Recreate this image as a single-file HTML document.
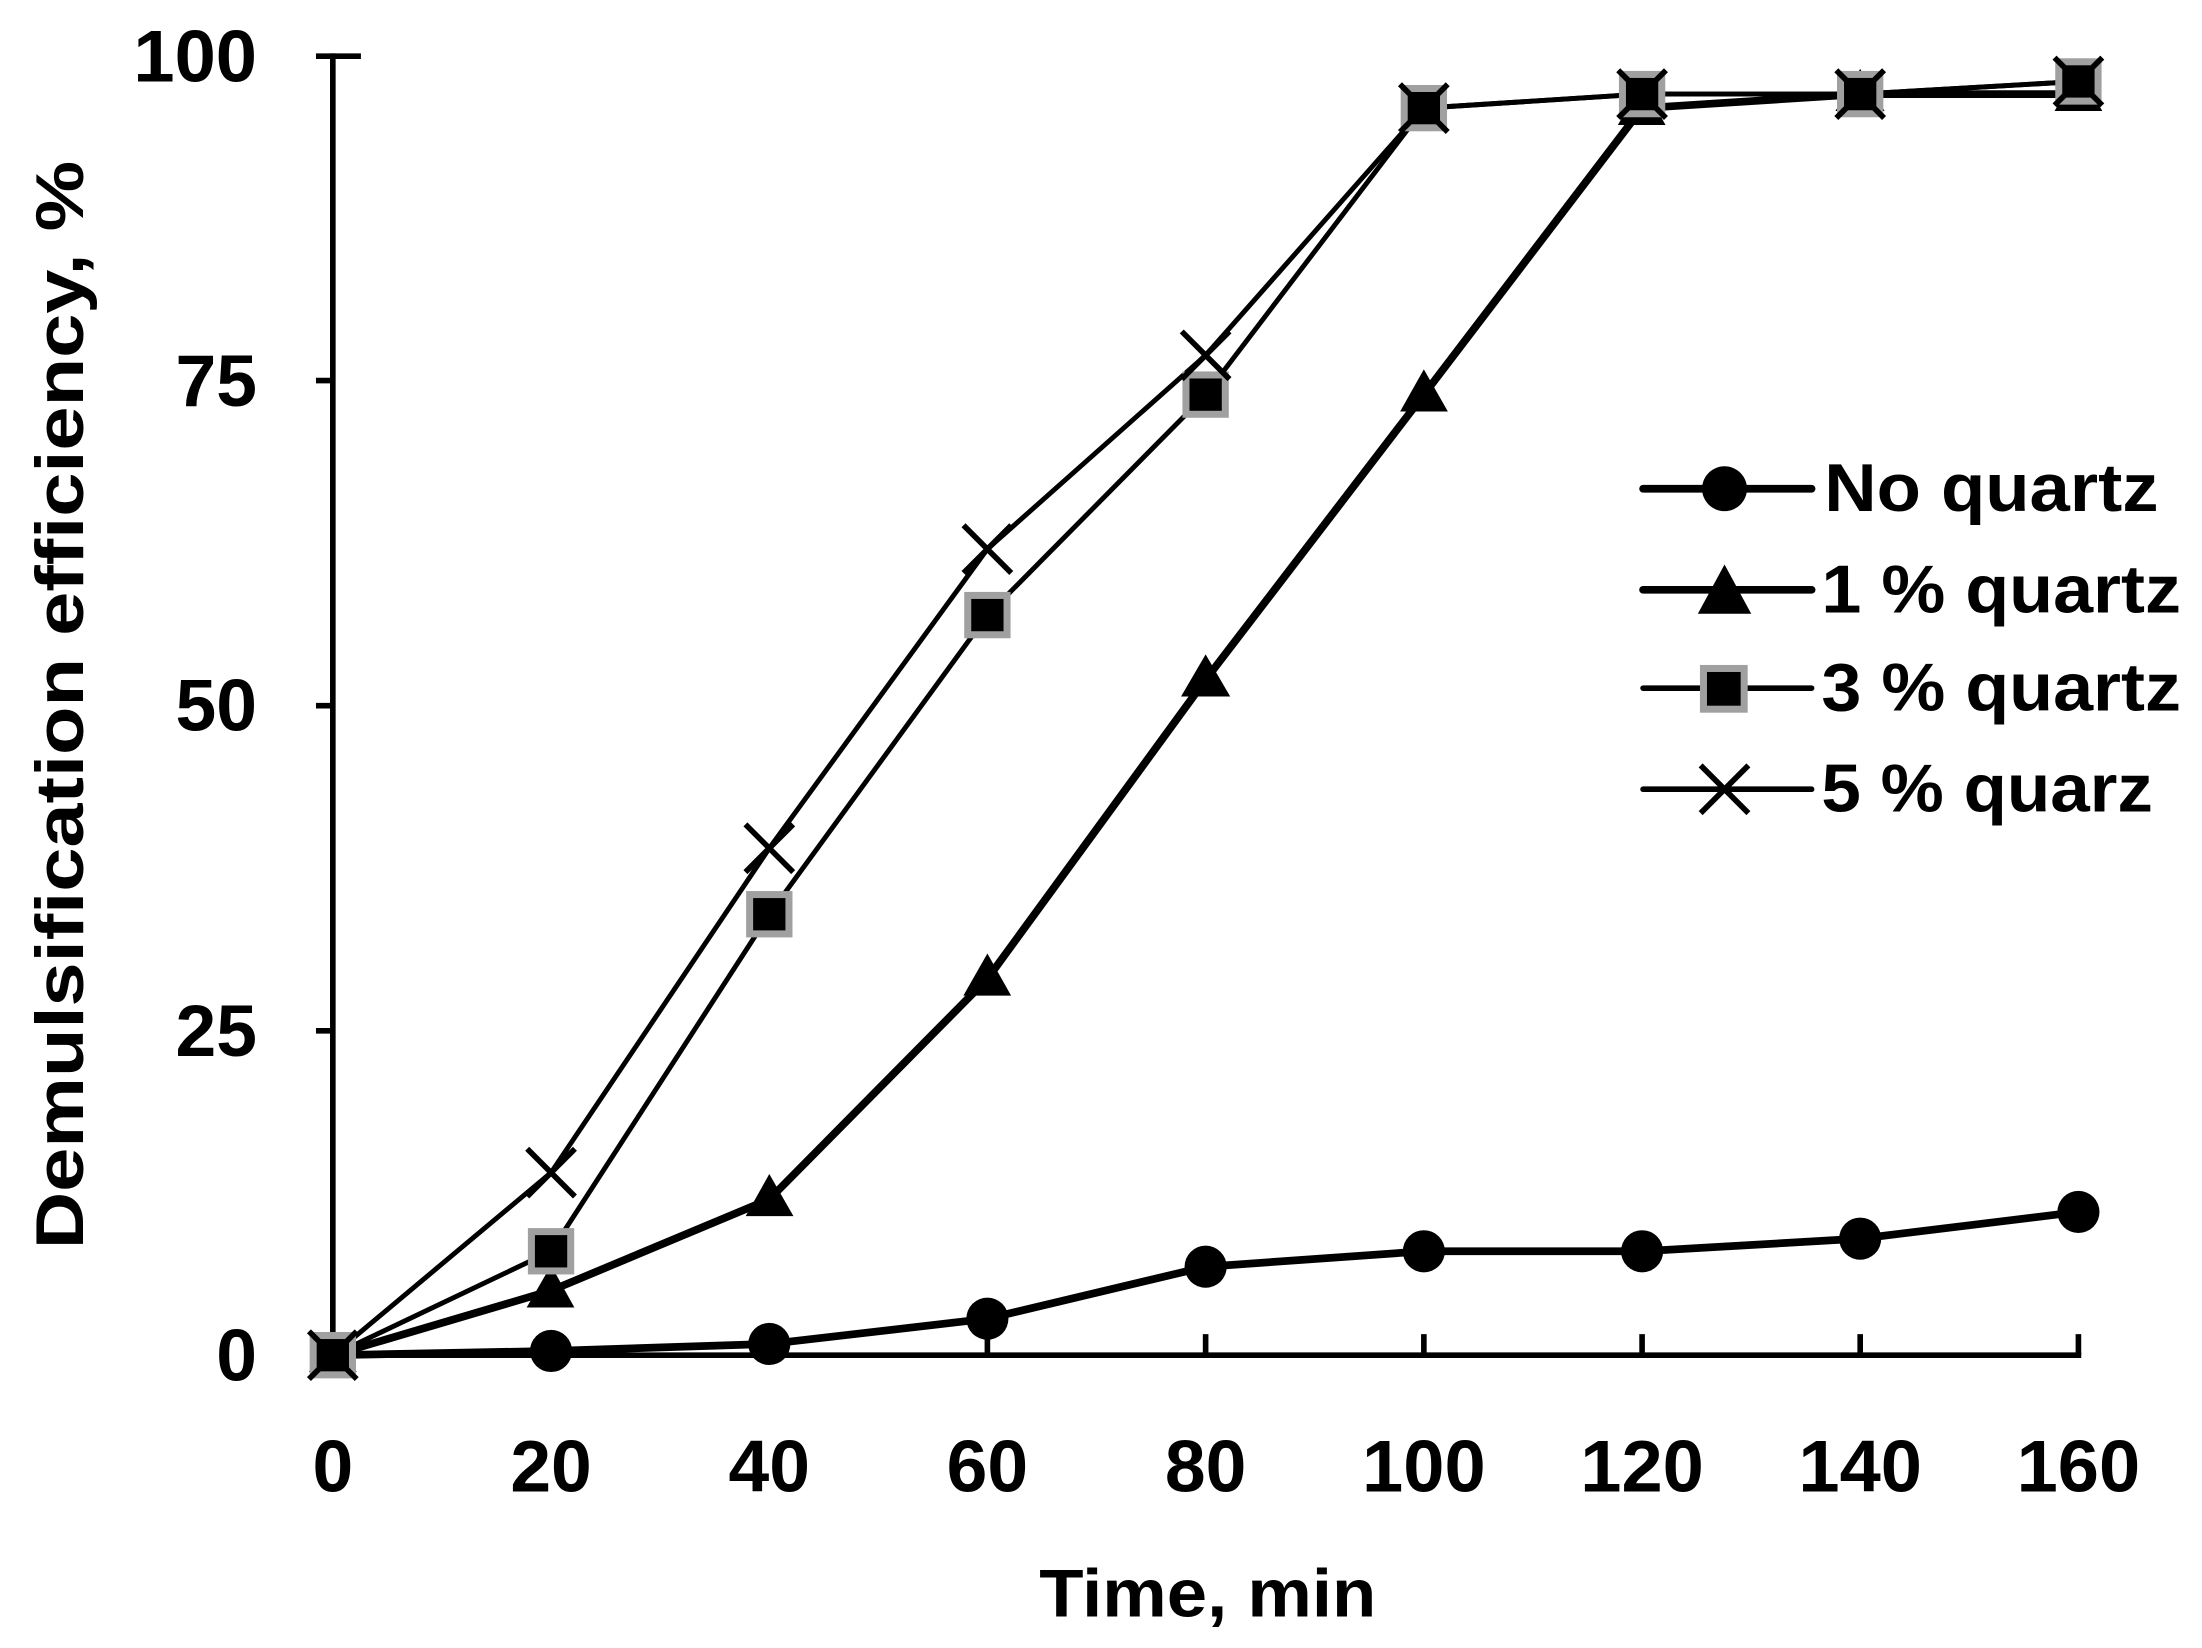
<!DOCTYPE html>
<html><head><style>html,body{margin:0;padding:0;background:#fff}svg{display:block}</style></head>
<body>
<svg width="2202" height="1648" viewBox="0 0 1568 1173.5" preserveAspectRatio="none" xmlns="http://www.w3.org/2000/svg" font-family="Liberation Sans, sans-serif" font-weight="bold">
<g stroke="#000" stroke-width="4" fill="none">
<line x1="237" y1="38" x2="237" y2="967"/>
<line x1="235" y1="965" x2="1482" y2="965"/>
<line x1="225" y1="40" x2="257" y2="40"/>
<line x1="225" y1="271" x2="237" y2="271"/>
<line x1="225" y1="502.5" x2="237" y2="502.5"/>
<line x1="225" y1="734" x2="237" y2="734"/>
<line x1="225" y1="965" x2="237" y2="965"/>
<line x1="392.4" y1="950" x2="392.4" y2="965"/>
<line x1="547.8" y1="950" x2="547.8" y2="965"/>
<line x1="703.1" y1="950" x2="703.1" y2="965"/>
<line x1="858.5" y1="950" x2="858.5" y2="965"/>
<line x1="1013.9" y1="950" x2="1013.9" y2="965"/>
<line x1="1169.3" y1="950" x2="1169.3" y2="965"/>
<line x1="1324.6" y1="950" x2="1324.6" y2="965"/>
<line x1="1480" y1="950" x2="1480" y2="965"/>
</g>
<g font-size="52" text-anchor="end">
<text x="183" y="58" textLength="88" lengthAdjust="spacingAndGlyphs">100</text>
<text x="183" y="289" textLength="58" lengthAdjust="spacingAndGlyphs">75</text>
<text x="183" y="520" textLength="58" lengthAdjust="spacingAndGlyphs">50</text>
<text x="183" y="752" textLength="58" lengthAdjust="spacingAndGlyphs">25</text>
<text x="183" y="983" textLength="29" lengthAdjust="spacingAndGlyphs">0</text>
</g>
<g font-size="52" text-anchor="middle">
<text x="237" y="1062" textLength="29" lengthAdjust="spacingAndGlyphs">0</text>
<text x="392.4" y="1062" textLength="58" lengthAdjust="spacingAndGlyphs">20</text>
<text x="547.8" y="1062" textLength="58" lengthAdjust="spacingAndGlyphs">40</text>
<text x="703.1" y="1062" textLength="58" lengthAdjust="spacingAndGlyphs">60</text>
<text x="858.5" y="1062" textLength="58" lengthAdjust="spacingAndGlyphs">80</text>
<text x="1013.9" y="1062" textLength="88" lengthAdjust="spacingAndGlyphs">100</text>
<text x="1169.3" y="1062" textLength="88" lengthAdjust="spacingAndGlyphs">120</text>
<text x="1324.6" y="1062" textLength="88" lengthAdjust="spacingAndGlyphs">140</text>
<text x="1480" y="1062" textLength="88" lengthAdjust="spacingAndGlyphs">160</text>
</g>
<g font-size="48" text-anchor="middle">
<text x="860" y="1151" textLength="240" lengthAdjust="spacingAndGlyphs">Time, min</text>
<text transform="translate(59,502) rotate(-90)" textLength="775" lengthAdjust="spacingAndGlyphs">Demulsification efficiency, %</text>
</g>
<g fill="none" stroke="#000" stroke-linejoin="round">
<polyline stroke-width="5.5" points="237,965 392.4,962 547.8,957 703.1,939 858.5,902 1013.9,891 1169.3,891 1324.6,882 1480,863"/>
<polyline stroke-width="5.5" points="237,965 392.4,919 547.8,854 703.1,697 858.5,484 1013.9,281 1169.3,77 1324.6,67 1480,67"/>
<polyline stroke-width="3.5" points="237,965 392.4,891 547.8,651 703.1,438 858.5,281 1013.9,77 1169.3,67 1324.6,67 1480,58"/>
<polyline stroke-width="3.5" points="237,965 392.4,835 547.8,604 703.1,391 858.5,253 1013.9,77 1169.3,67 1324.6,67 1480,58"/>
</g>
<g fill="#000">
<circle cx="237" cy="965" r="15"/><circle cx="392.4" cy="962" r="15"/><circle cx="547.8" cy="957" r="15"/><circle cx="703.1" cy="939" r="15"/><circle cx="858.5" cy="902" r="15"/><circle cx="1013.9" cy="891" r="15"/><circle cx="1169.3" cy="891" r="15"/><circle cx="1324.6" cy="882" r="15"/><circle cx="1480" cy="863" r="15"/>
</g>
<g fill="#000">
<path d="M237,947 L254,977 L220,977Z"/><path d="M392.4,901 L409,931 L375,931Z"/><path d="M547.8,836 L565,866 L531,866Z"/><path d="M703.1,679 L720,709 L686,709Z"/><path d="M858.5,466 L876,496 L841,496Z"/><path d="M1013.9,263 L1031,293 L997,293Z"/><path d="M1169.3,59 L1186,89 L1152,89Z"/><path d="M1324.6,49 L1342,79 L1307,79Z"/><path d="M1480,49 L1497,79 L1463,79Z"/>
</g>
<g fill="#000" stroke="#a0a0a0" stroke-width="5">
<rect x="223" y="951" width="28" height="28"/><rect x="378.4" y="877" width="28" height="28"/><rect x="533.8" y="637" width="28" height="28"/><rect x="689.1" y="424" width="28" height="28"/><rect x="844.5" y="267" width="28" height="28"/><rect x="999.9" y="63" width="28" height="28"/><rect x="1155.3" y="53" width="28" height="28"/><rect x="1310.6" y="53" width="28" height="28"/><rect x="1466" y="44" width="28" height="28"/>
</g>
<g stroke="#000" stroke-width="4">
<path d="M220,948 l34,34 M254,948 l-34,34"/>
<path d="M375.4,818 l34,34 M409.4,818 l-34,34"/>
<path d="M530.8,587 l34,34 M564.8,587 l-34,34"/>
<path d="M686.1,374 l34,34 M720.1,374 l-34,34"/>
<path d="M841.5,236 l34,34 M875.5,236 l-34,34"/>
<path d="M996.9,60 l34,34 M1030.9,60 l-34,34"/>
<path d="M1152.3,50 l34,34 M1186.3,50 l-34,34"/>
<path d="M1307.6,50 l34,34 M1341.6,50 l-34,34"/>
<path d="M1463,41 l34,34 M1497,41 l-34,34"/>
</g>
<g stroke="#000" stroke-linecap="round">
<line x1="1170" y1="348" x2="1290" y2="348" stroke-width="5.5"/>
<line x1="1170" y1="420" x2="1290" y2="420" stroke-width="5.5"/>
<line x1="1170" y1="490" x2="1290" y2="490" stroke-width="4"/>
<line x1="1170" y1="562" x2="1290" y2="562" stroke-width="4"/>
</g>
<circle cx="1228" cy="348" r="16" fill="#000"/>
<path d="M1228,402 L1247,437 L1209,437Z" fill="#000"/>
<rect x="1213" y="476" width="29" height="29" fill="#000" stroke="#a0a0a0" stroke-width="5"/>
<path d="M1211,545 l34,34 M1245,545 l-34,34" stroke="#000" stroke-width="4"/>
<g font-size="48">
<text x="1299" y="364" textLength="238" lengthAdjust="spacingAndGlyphs">No quartz</text>
<text x="1297" y="436" textLength="256" lengthAdjust="spacingAndGlyphs">1 % quartz</text>
<text x="1297" y="506" textLength="256" lengthAdjust="spacingAndGlyphs">3 % quartz</text>
<text x="1297" y="578" textLength="236" lengthAdjust="spacingAndGlyphs">5 % quarz</text>
</g>
</svg>
</body></html>
